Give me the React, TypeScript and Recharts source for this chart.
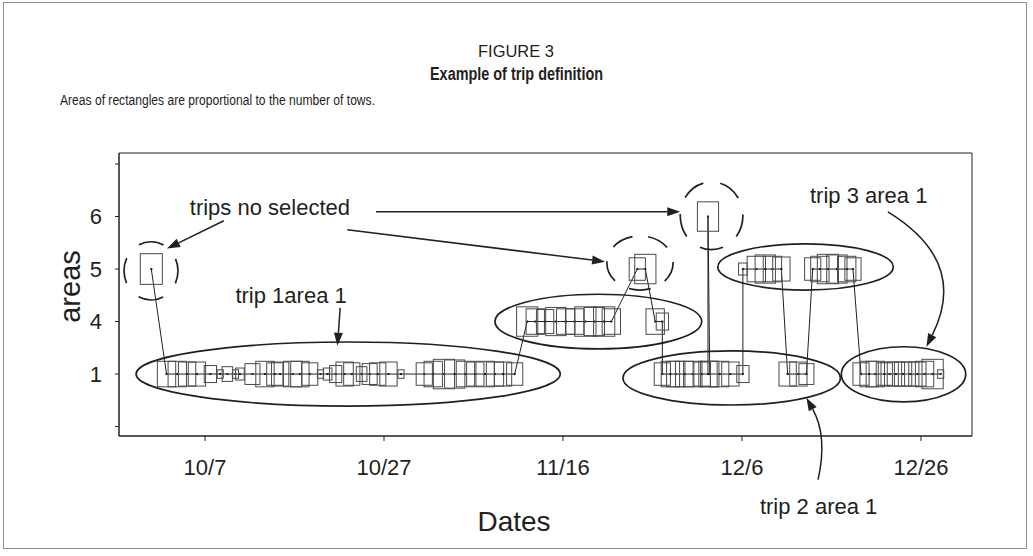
import React from 'react';
import {
  ScatterChart,
  Scatter,
  XAxis,
  YAxis,
  ReferenceArea,
  ReferenceLine,
  ReferenceDot,
} from 'recharts';

// x = days counted from 10/7
const tickDays = [0, 20, 40, 60, 80];
const tickDates = ['10/7', '10/27', '11/16', '12/6', '12/26'];

// fishing areas on the y axis, bottom to top (empty slots at both ends)
const areaLabels = ['', '1', '4', '5', '6', ''];

// one entry per fishing day, in time order
const days = [
  -6.0,
  -4.3, -3.1, -2.0, -0.9, 0.6, 1.7, 2.5, 3.4, 3.9, 5.3, 6.7, 7.8, 8.4, 9.8, 10.6, 11.7, 12.9, 13.7, 14.6,
  15.6, 16.4, 17.5, 18.4, 19.3, 20.5, 21.9, 24.5, 25.5, 26.7, 27.9, 29.1, 30.2, 31.3, 32.4, 33.3, 34.6,
  36.0, 36.9, 38.0, 39.2, 40.3, 41.3, 42.5, 43.5, 44.6, 45.4,
  48.3, 49.2,
  50.3, 51.1,
  51.1, 52.0, 52.6, 53.6, 54.5, 55.5, 56.2,
  56.2,
  56.4, 57.5, 58.7, 60.1,
  60.1, 61.6, 62.6, 63.4, 64.4,
  65.1, 66.3, 67.2,
  67.9, 68.7, 69.6, 70.6, 71.7, 72.4,
  73.3, 74.2, 74.9, 75.9, 76.5, 77.2, 78.0, 78.8, 79.6, 80.4, 81.3, 82.2,
];
const areas = [
  5,
  1, 1, 1, 1, 1, 1, 1, 1, 1, 1, 1, 1, 1, 1, 1, 1, 1, 1, 1,
  1, 1, 1, 1, 1, 1, 1, 1, 1, 1, 1, 1, 1, 1, 1, 1, 1,
  4, 4, 4, 4, 4, 4, 4, 4, 4, 4,
  5, 5,
  4, 4,
  1, 1, 1, 1, 1, 1, 1,
  6,
  1, 1, 1, 1,
  5, 5, 5, 5, 5,
  1, 1, 1,
  5, 5, 5, 5, 5, 5,
  1, 1, 1, 1, 1, 1, 1, 1, 1, 1, 1, 1,
];
const tows = [
  13,
  9, 9, 8, 8, 4, 1, 3, 1, 2, 6, 9, 7, 8, 9, 9, 7, 1, 2, 4,
  8, 7, 3, 6, 7, 8, 1, 7, 9, 12, 11, 9, 8, 9, 8, 8, 7,
  12, 9, 8, 11, 9, 9, 12, 11, 12, 9,
  7, 12,
  9, 4,
  7, 9, 9, 9, 9, 8, 9,
  12,
  9, 9, 8, 4,
  2, 9, 11, 9, 8,
  8, 8, 6,
  7, 9, 12, 11, 9, 7,
  7, 9, 9, 7, 8, 8, 8, 8, 8, 9, 12, 1,
];

// trip groupings (solid ovals) and unselected trips (dashed ovals), in axis units
const tripOvals = [
  { x1: -7.7, x2: 39.7, y1: 0.39, y2: 1.61 },
  { x1: 32.4, x2: 55.5, y1: 1.48, y2: 2.52 },
  { x1: 57.3, x2: 76.9, y1: 2.6, y2: 3.48 },
  { x1: 46.7, x2: 71.0, y1: 0.41, y2: 1.44 },
  { x1: 71.1, x2: 85.0, y1: 0.47, y2: 1.52 },
];
const skippedOvals = [
  { x1: -9.05, x2: -3.02, y1: 2.41, y2: 3.52, dashes: 4, phase: 0 },
  { x1: 44.9, x2: 52.3, y1: 2.6, y2: 3.63, dashes: 5, phase: 90 },
  { x1: 53.1, x2: 60.1, y1: 3.37, y2: 4.66, dashes: 5, phase: 90 },
];

const arrows = [
  { from: [2.1, 3.92], to: [-4.25, 3.39], bend: 0 },
  { from: [19.1, 4.09], to: [53.1, 4.09], bend: 0 },
  { from: [15.9, 3.75], to: [44.7, 3.14], bend: 0 },
  { from: [15.1, 2.26], to: [14.8, 1.54], bend: 0 },
  { from: [76.3, 4.09], to: [80.6, 1.52], bend: 0.46 },
  { from: [68.5, -1.01], to: [67.2, 0.55], bend: -0.19 },
];

const notes = [
  { text: 'trips no selected', x: -1.7, y: 4.03 },
  { text: 'trip 1area 1', x: 3.4, y: 2.36 },
  { text: 'trip 3 area 1', x: 67.6, y: 4.26 },
  { text: 'trip 2 area 1', x: 62.0, y: -1.66 },
];

const trips = days.map((d, i) => ({
  day: d,
  row: areaLabels.indexOf(String(areas[i])),
  tows: tows[i],
}));

const INK = '#231f20';
const SANS = 'Liberation Sans, Arial, sans-serif';

// rectangle whose area follows the number of tows
const TowBox = (props: any) => {
  const { cx, cy, payload } = props;
  const h = 8.5 * Math.sqrt(payload.tows);
  const w = h * 0.72;
  return (
    <g>
      <rect x={cx - w / 2} y={cy - h / 2} width={w} height={h} fill="none" stroke="#4a4a4a" strokeWidth={1} />
      <rect x={cx - 1} y={cy - 1} width={2} height={2} fill={INK} />
    </g>
  );
};

const Oval = (props: any) => {
  const { x, y, width, height } = props;
  return (
    <ellipse
      cx={x + width / 2}
      cy={y + height / 2}
      rx={Math.abs(width) / 2}
      ry={Math.abs(height) / 2}
      fill="none"
      stroke={INK}
      strokeWidth={1.7}
    />
  );
};

const DashedOval = (props: any) => {
  const { x, y, width, height, dashes, phase } = props;
  const a = Math.abs(width) / 2;
  const b = Math.abs(height) / 2;
  const per = Math.PI * (3 * (a + b) - Math.sqrt((3 * a + b) * (a + 3 * b)));
  const period = per / dashes;
  const dash = period * 0.58;
  const offset = dash / 2 - (per * phase) / 360;
  return (
    <ellipse
      cx={x + width / 2}
      cy={y + height / 2}
      rx={a}
      ry={b}
      fill="none"
      stroke={INK}
      strokeWidth={1.7}
      strokeDasharray={`${dash} ${period - dash}`}
      strokeDashoffset={offset}
    />
  );
};

const Arrow = (props: any) => {
  const { x1, y1, x2, y2, bend } = props;
  const dx = x2 - x1;
  const dy = y2 - y1;
  const qx = (x1 + x2) / 2 + bend * dy;
  const qy = (y1 + y2) / 2 - bend * dx;
  const tx = bend ? x2 - qx : dx;
  const ty = bend ? y2 - qy : dy;
  const tl = Math.hypot(tx, ty) || 1;
  const ux = tx / tl;
  const uy = ty / tl;
  const bx = x2 - ux * 13;
  const by = y2 - uy * 13;
  const d = bend ? `M${x1},${y1} Q${qx},${qy} ${bx},${by}` : `M${x1},${y1} L${bx},${by}`;
  return (
    <g>
      <path d={d} fill="none" stroke={INK} strokeWidth={1.5} />
      <polygon
        points={`${x2},${y2} ${bx - uy * 4.5},${by + ux * 4.5} ${bx + uy * 4.5},${by - ux * 4.5}`}
        fill={INK}
      />
    </g>
  );
};

const Note = (props: any) => (
  <text x={props.cx} y={props.cy} fontSize={22} fontFamily={SANS} fill={INK}>
    {props.text}
  </text>
);

export default function App() {
  return (
    <div style={{ position: 'absolute', left: 0, top: 0, width: 1033, height: 556, background: '#fff' }}>
      <div
        style={{
          position: 'absolute',
          left: 3,
          top: 2,
          width: 1022,
          height: 545,
          border: '1px solid #8f8f8f',
        }}
      />
      {/* condensed caption type squeezed with textLength */}
      <svg width={1033} height={120} style={{ position: 'absolute', left: 0, top: 0 }}>
        <text
          x={478}
          y={57}
          fontSize={17}
          fontFamily={SANS}
          fill={INK}
          textLength={76}
          lengthAdjust="spacingAndGlyphs"
        >
          FIGURE 3
        </text>
        <text
          x={430}
          y={80}
          fontSize={19}
          fontWeight="bold"
          fontFamily={SANS}
          fill={INK}
          textLength={173}
          lengthAdjust="spacingAndGlyphs"
        >
          Example of trip definition
        </text>
        <text
          x={60}
          y={105}
          fontSize={14}
          fontFamily={SANS}
          fill={INK}
          textLength={315}
          lengthAdjust="spacingAndGlyphs"
        >
          Areas of rectangles are proportional to the number of tows.
        </text>
      </svg>
      <div style={{ position: 'absolute', left: 0, top: 0 }}>
        <ScatterChart width={1033} height={556} margin={{ top: 153, right: 61, bottom: 60, left: 59 }}>
          <XAxis
            type="number"
            dataKey="day"
            domain={[-9.61, 85.7]}
            allowDataOverflow
            ticks={tickDays}
            tickFormatter={(v: number) => tickDates[tickDays.indexOf(v)]}
            height={60}
            tickSize={5}
            tickMargin={18}
            tick={{ fontSize: 22, fill: INK, fontFamily: SANS }}
            stroke={INK}
            label={(p: any) => (
              <text
                x={p.viewBox.x + 395}
                y={p.viewBox.y + 95}
                textAnchor="middle"
                fontSize={28}
                fontFamily={SANS}
                fill={INK}
              >
                Dates
              </text>
            )}
          />
          <YAxis
            type="number"
            dataKey="row"
            domain={[-0.18, 5.21]}
            allowDataOverflow
            ticks={[0, 1, 2, 3, 4, 5]}
            tickFormatter={(v: number) => areaLabels[v]}
            width={60}
            tickSize={4}
            tickMargin={13}
            tick={{ fontSize: 22, fill: INK, fontFamily: SANS }}
            stroke={INK}
            label={(p: any) => {
              const x = p.viewBox.x + 21;
              const y = p.viewBox.y + p.viewBox.height / 2 - 8;
              return (
                <text
                  x={x}
                  y={y}
                  transform={`rotate(-90 ${x} ${y})`}
                  textAnchor="middle"
                  fontSize={29}
                  fontFamily={SANS}
                  fill={INK}
                >
                  areas
                </text>
              );
            }}
          />
          <ReferenceArea x1={-9.61} x2={85.7} y1={-0.18} y2={5.21} fill="none" stroke={INK} strokeWidth={1} ifOverflow="visible" />
          <Scatter
            data={trips}
            line={{ stroke: INK, strokeWidth: 1 }}
            lineType="joint"
            shape={TowBox}
            isAnimationActive={false}
          />
          {tripOvals.map((o, i) => (
            <ReferenceArea key={`t${i}`} x1={o.x1} x2={o.x2} y1={o.y1} y2={o.y2} ifOverflow="visible" shape={Oval} />
          ))}
          {skippedOvals.map((o, i) => (
            <ReferenceArea
              key={`s${i}`}
              x1={o.x1}
              x2={o.x2}
              y1={o.y1}
              y2={o.y2}
              ifOverflow="visible"
              shape={(p: any) => <DashedOval {...p} dashes={o.dashes} phase={o.phase} />}
            />
          ))}
          {arrows.map((a, i) => (
            <ReferenceLine
              key={`a${i}`}
              segment={[
                { x: a.from[0], y: a.from[1] },
                { x: a.to[0], y: a.to[1] },
              ]}
              ifOverflow="visible"
              shape={(p: any) => <Arrow {...p} bend={a.bend} />}
            />
          ))}
          {notes.map((n, i) => (
            <ReferenceDot
              key={`n${i}`}
              x={n.x}
              y={n.y}
              ifOverflow="visible"
              shape={(p: any) => <Note {...p} text={n.text} />}
            />
          ))}
        </ScatterChart>
      </div>
    </div>
  );
}
